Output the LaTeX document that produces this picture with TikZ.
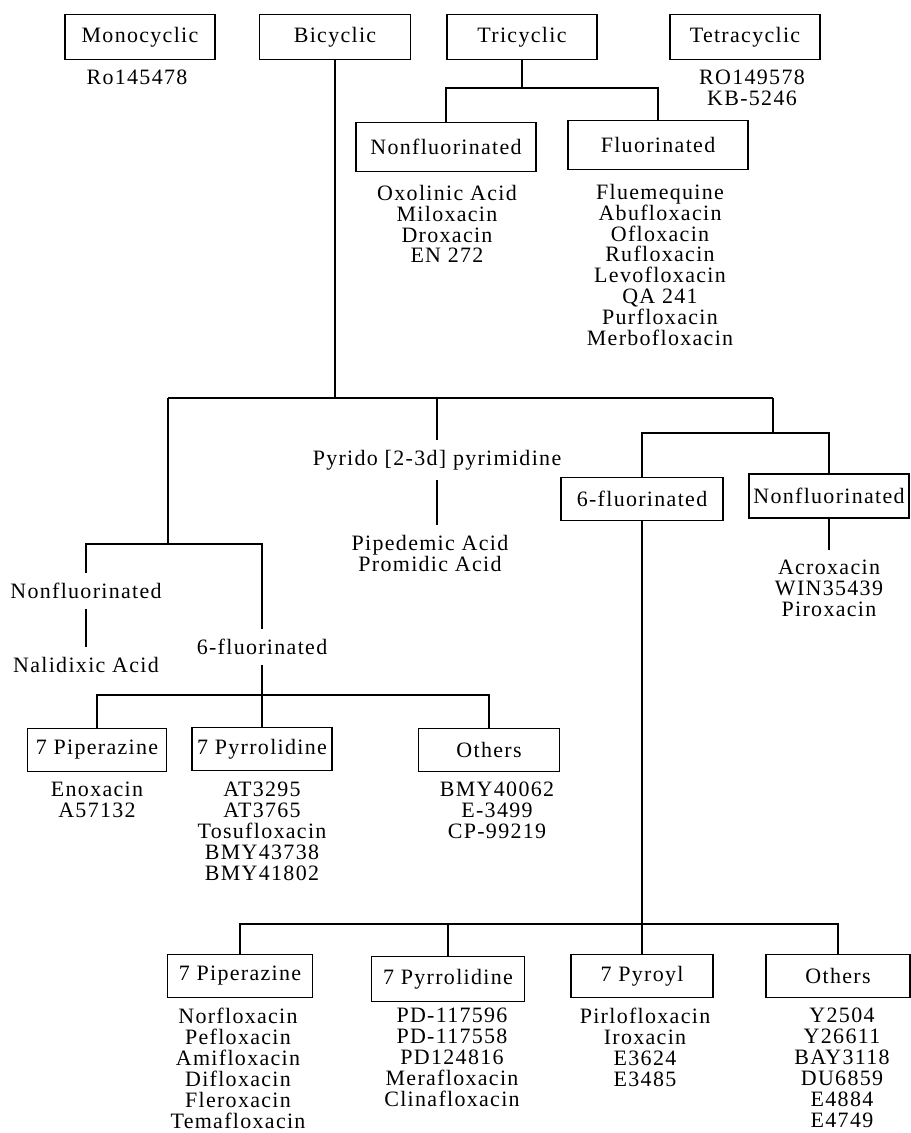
\documentclass[tikz,border=0pt]{standalone}
\usepackage{fontspec}
\setmainfont{Liberation Serif}[LetterSpace=6]
\begin{document}
\begin{tikzpicture}[x=0.02cm, y=-0.02cm, line width=1pt,
    every node/.style={font=\fontsize{12.5}{11.9}\selectfont},
    scatola/.style={draw, line width=1pt, inner sep=0pt, minimum height=0.86cm},
    testo/.style={inner sep=0pt, outer sep=0.2cm},
    elenco/.style={inner sep=0pt, outer sep=0.2cm, align=center, anchor=north}]
    \useasboundingbox (0,0) rectangle (911,1133);

    % Riquadri in alto
    \node[scatola, minimum width=3cm, minimum height=0.9cm] (mono) at (140,37) {Monocyclic};
    \node[scatola, minimum width=3.02cm, minimum height=0.9cm] (bic) at (335,37) {Bicyclic};
    \node[scatola, minimum width=3cm, minimum height=0.9cm] (tri) at (522,37) {Tricyclic};
    \node[scatola, minimum width=3cm, minimum height=0.9cm] (tetra) at (745,37) {Tetracyclic};
    \node[elenco] (monolista) at (137,60) {Ro145478};
    \node[elenco] (tetralista) at (752,60) {RO149578\\KB-5246};

    % Triciclici
    \node[scatola, minimum width=3.6cm, minimum height=0.98cm] (trinf) at (446,147) {Nonfluorinated};
    \node[scatola, minimum width=3.6cm, minimum height=0.98cm] (trif) at (658,145) {Fluorinated};
    \node[elenco] (trinflista) at (447,175) {Oxolinic Acid\\Miloxacin\\Droxacin\\EN 272};
    \node[elenco] (triflista) at (660,174) {Fluemequine\\Abufloxacin\\Ofloxacin\\Rufloxacin\\Levofloxacin\\QA 241\\Purfloxacin\\Merbofloxacin};
    \coordinate (tj) at (522,88);
    \draw (tri) -- (tj);
    \draw (trinf) |- (tj) -| (trif);

    % Biciclici
    \coordinate (bs) at (168,398);
    \coordinate (bd) at (773,398);
    \draw (bs) -- (bd);
    \draw (bic) -- (bic |- bs);

    % Pirido-pirimidine
    \node[testo] (pirido) at (437,460) {Pyrido [2-3d] pyrimidine};
    \node[elenco] (piridolista) at (430,525) {Pipedemic Acid\\Promidic Acid};
    \draw (pirido |- bs) -- (pirido);
    \draw (pirido) -- (pirido |- piridolista.north);

    % Ramo sinistro
    \coordinate (ls) at (168,544);
    \draw (bs) -- (ls);
    \node[testo] (nfsx) at (86,591) {Nonfluorinated};
    \node[testo] (nalid) at (86,665) {Nalidixic Acid};
    \node[testo] (fseisx) at (262,647) {6-fluorinated};
    \draw (nfsx) |- (ls) -| (fseisx);
    \draw (nfsx) -- (nalid);

    \node[scatola, minimum width=2.78cm] (pipa) at (97,750) {7 Piperazine};
    \node[scatola, minimum width=2.8cm] (pirra) at (262,749) {7 Pyrrolidine};
    \node[scatola, minimum width=2.82cm] (altria) at (489,750) {Others};
    \coordinate (lb) at (262,695);
    \draw (fseisx) -- (pirra);
    \draw (pipa) |- (lb) -| (altria);
    \node[elenco] (pipalista) at (97,772) {Enoxacin\\A57132};
    \node[elenco] (pirralista) at (262,772) {AT3295\\AT3765\\Tosufloxacin\\BMY43738\\BMY41802};
    \node[elenco] (altrialista) at (497,772) {BMY40062\\E-3499\\CP-99219};

    % Ramo destro
    \coordinate (rd) at (773,433);
    \node[scatola, minimum width=3.24cm] (fsei) at (642,499) {6-fluorinated};
    \node[scatola, minimum width=3.2cm, minimum height=0.88cm] (nfdx) at (829,496) {Nonfluorinated};
    \draw (bd) -- (rd);
    \draw (fsei) |- (rd) -| (nfdx);
    \node[elenco] (nfdxlista) at (829,550) {Acroxacin\\WIN35439\\Piroxacin};
    \draw (nfdx) -- (nfdxlista);

    % Sostituenti in 7
    \node[scatola, minimum width=2.9cm] (pipb) at (240,976) {7 Piperazine};
    \node[scatola, minimum width=3.06cm, minimum height=0.9cm] (pirrb) at (448,979) {7 Pyrrolidine};
    \node[scatola, minimum width=2.84cm] (piroil) at (642,976) {7 Pyroyl};
    \node[scatola, minimum width=2.88cm] (altrib) at (838,976) {Others};
    \coordinate (fb) at (642,924);
    \draw (fsei) -- (piroil);
    \draw (pipb) |- (fb) -| (altrib);
    \draw (pirrb) -- (pirrb |- fb);
    \node[elenco] (pipblista) at (238,998) {Norfloxacin\\Pefloxacin\\Amifloxacin\\Difloxacin\\Fleroxacin\\Temafloxacin};
    \node[elenco] (pirrblista) at (452,998) {PD-117596\\PD-117558\\PD124816\\Merafloxacin\\Clinafloxacin};
    \node[elenco] (piroillista) at (645,998) {Pirlofloxacin\\Iroxacin\\E3624\\E3485};
    \node[elenco] (altriblista) at (842,998) {Y2504\\Y26611\\BAY3118\\DU6859\\E4884\\E4749};
\end{tikzpicture}
\end{document}
